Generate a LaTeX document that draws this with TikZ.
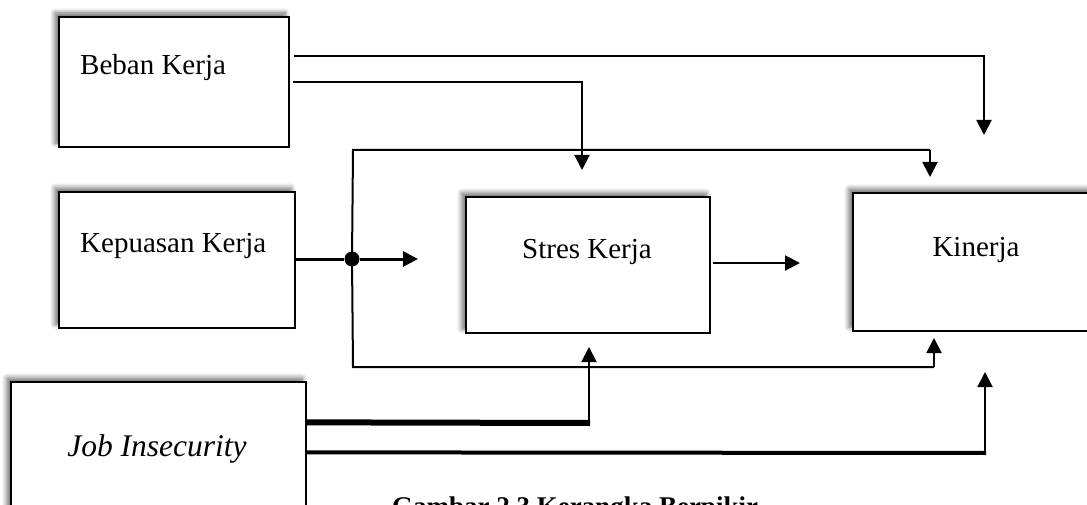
\documentclass[tikz,border=0pt]{standalone}
\usepackage{fontspec}
\setmainfont{Liberation Serif}
\usetikzlibrary{calc,arrows.meta,shadows.blur}

\begin{document}
\begin{tikzpicture}[
            x=1pt, y=-1pt,
            kotak/.style={
                draw=black,
                fill=white,
                line width=1.3pt,
                inner sep=0pt,
                blur shadow={shadow xshift=-4pt, shadow yshift=4pt,
                    shadow blur radius=5pt, shadow blur steps=8,
                    shadow opacity=60}
            },
            teks/.style={
                font=\fontsize{29}{34}\selectfont,
                inner sep=0pt
            },
            garis/.style={
                -{Triangle[length=15pt,width=15pt]},
                line width=2pt,
                draw=black
            },
            garistebal/.style={
                garis,
                line width=3pt
            }
        ]

        \useasboundingbox (0,0) rectangle (1087,505);

        % --- Variabel ---
        \node[kotak, minimum width=230pt, minimum height=130pt]
            (beban) at (174,82) {};
        \node[teks, anchor=west] (bebantxt) at (80,68) {Beban Kerja};

        \node[kotak, minimum width=236pt, minimum height=136pt]
            (kepuasan) at (177,260) {};
        \node[teks, anchor=west] (kepuasantxt) at (80,246) {Kepuasan Kerja};

        \node[kotak, minimum width=244pt, minimum height=136pt]
            (stres) at (588,265) {};
        \node[teks] (strestxt) at (587,252) {Stres Kerja};

        \node[kotak, minimum width=248pt, minimum height=138pt]
            (kinerja) at (977,262) {};
        \node[teks] (kinerjatxt) at (976,250) {Kinerja};

        \node[kotak, minimum width=295pt, minimum height=178pt]
            (job) at (158.5,471) {};
        \node[teks, font=\fontsize{31.5}{36}\selectfont\itshape]
            (jobtxt) at (157,449) {Job Insecurity};

        % --- Titik ujung panah ---
        \coordinate (ujungA) at (984,135);
        \coordinate (ujungB) at (582,170);
        \coordinate (ujungC) at (930,177);
        \coordinate (ujungD) at (934,338);
        \coordinate (ujungE) at (418,259);
        \coordinate (ujungF) at (800,263);
        \coordinate (ujungG) at (589,347);
        \coordinate (ujungH) at (985,372);
        \coordinate (loopatas) at (353,150);
        \coordinate (loopbawah) at (353,367);
        \coordinate (sikuG) at (589,423);
        \coordinate (sikuH) at (985,453);

        % --- Beban Kerja ---
        \draw[garis] ($(beban.north east)+(4,40)$) -| (ujungA);
        \draw[garis] ($(beban.north east)+(3,66)$) -| (ujungB);

        % --- Kepuasan Kerja ---
        \node[circle, fill=black, inner sep=0pt, minimum size=15pt]
            (simpul) at (352,259) {};
        \draw[line width=3pt] (kepuasan.east |- simpul) -- (simpul);
        \draw[garistebal] (simpul) -- (ujungE);
        \draw[garis, -] (simpul.center) -- (loopatas) -- (loopatas -| ujungC);
        \draw[garis] (loopatas -| ujungC) -- (ujungC);
        \draw[garis, -] (simpul.center) -- (loopbawah) -- (loopbawah -| ujungD);
        \draw[garis] (loopbawah -| ujungD) -- (ujungD);

        % --- Stres Kerja ---
        \draw[garis] ([xshift=2pt, yshift=2pt]stres.east) -- (ujungF);

        % --- Job Insecurity ---
        \draw[line width=6pt] ($(job.north east)+(0,41)$) -- ([xshift=1pt]sikuG);
        \draw[garis] ([yshift=3pt]sikuG) -- (ujungG);
        \draw[line width=4pt] ($(job.north east)+(0,71)$) -- ([xshift=1pt]sikuH);
        \draw[garis] ([yshift=2pt]sikuH) -- (ujungH);

        % --- Keterangan ---
        \node[font=\fontsize{27}{32}\selectfont\bfseries, anchor=base,
            inner sep=0pt] (judul) at (575,515)
            {Gambar 2.3 Kerangka Berpikir};

        \end{tikzpicture}
\end{document}
